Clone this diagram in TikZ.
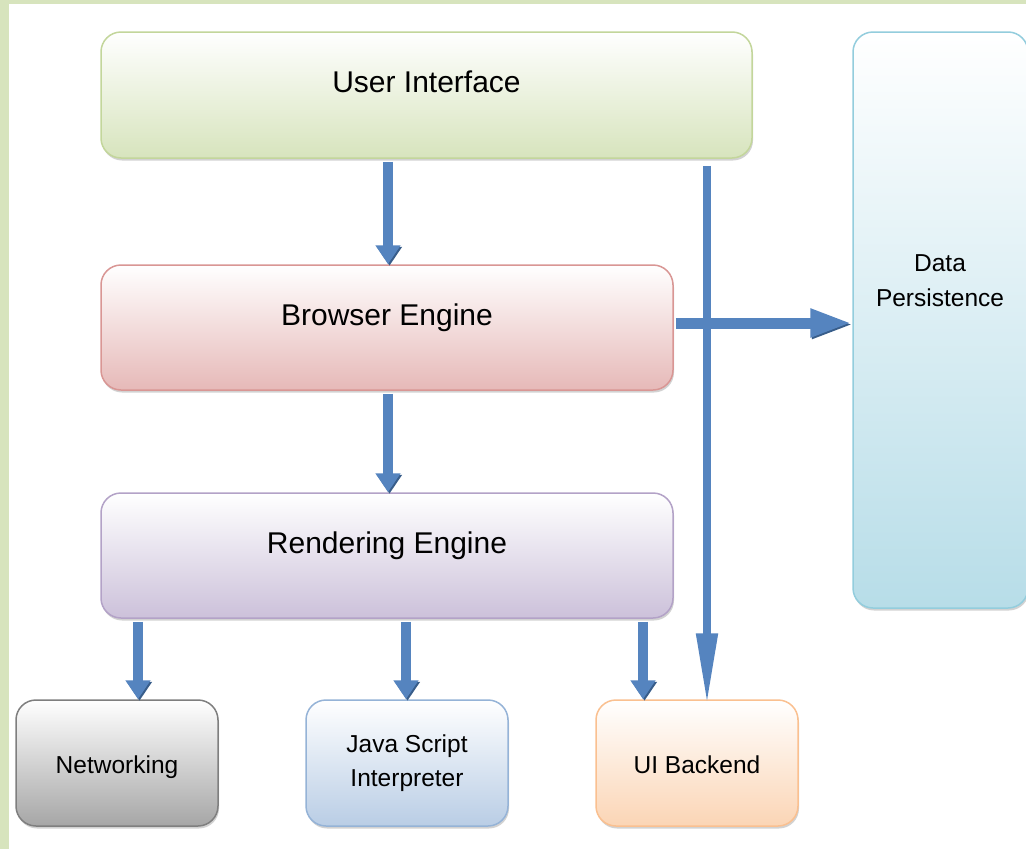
\documentclass[tikz,border=0pt]{standalone}
\usepackage{fontspec}
\setmainfont{Liberation Sans}
\usetikzlibrary{arrows.meta,shadows}
\definecolor{framegreen}{HTML}{D7E4BD}
\definecolor{uifill}{HTML}{D7E4BD}\definecolor{uiline}{HTML}{C3D69B}
\definecolor{befill}{HTML}{E6B9B8}\definecolor{beline}{HTML}{D99694}
\definecolor{refill}{HTML}{CCC1DA}\definecolor{reline}{HTML}{B3A2C7}
\definecolor{dpfill}{HTML}{B7DDE8}\definecolor{dpline}{HTML}{93CDDD}
\definecolor{netfill}{HTML}{A6A6A6}\definecolor{netline}{HTML}{7F7F7F}
\definecolor{jsfill}{HTML}{B9CDE5}\definecolor{jsline}{HTML}{95B3D7}
\definecolor{uibfill}{HTML}{FBD5B5}\definecolor{uibline}{HTML}{FAC090}
\definecolor{arrowblue}{HTML}{5584BF}\definecolor{arrowdark}{HTML}{385D8A}
\tikzset{
  box/.style 2 args={rounded corners=20pt, draw=#2, line width=1.5pt,
    top color=white, bottom color=#1,
    drop shadow={shadow xshift=1pt, shadow yshift=-2.5pt, opacity=0.35},
    text=black, inner sep=0pt},
  bigbox/.style={font=\fontsize{30}{36}\selectfont, text height=20pt, text depth=24.5pt},
  smallbox/.style={font=\fontsize{24.5}{34}\selectfont, align=center,
    minimum width=202pt, minimum height=126pt},
  oneline/.style={text height=22pt, text depth=0.5pt},
  arr/.style={line width=10pt, draw=arrowblue, -{Triangle[length=19pt,width=24pt]},
    preaction={draw=arrowdark, transform canvas={xshift=1.5pt, yshift=-1.5pt}}},
}
\begin{document}
\begin{tikzpicture}[x=1pt,y=-1pt]
\useasboundingbox (0,0) rectangle (1026,849);
\clip (0,0) rectangle (1026,849);
\fill[framegreen] (0,0) rectangle (1026,849);
\fill[white] (9,4) rectangle (1026,849);

\node[box={uifill}{uiline}, bigbox, minimum width=651pt, minimum height=126pt] (ui) at (426.5,95) {User Interface};
\node[box={befill}{beline}, bigbox, minimum width=572pt, minimum height=125pt] (be) at (387,327.5) {Browser Engine};
\node[box={refill}{reline}, bigbox, minimum width=572pt, minimum height=125pt] (re) at (387,555.5) {Rendering Engine};
\node[box={dpfill}{dpline}, minimum width=175pt, minimum height=576pt] (dp) at (940.5,320) {};
\node[font=\fontsize{24.5}{35}\selectfont, align=center, text=black] (dptext) at (940,281) {Data\\Persistence};

\node[box={netfill}{netline}, smallbox, oneline] (net) at (117,763) {Networking};
\node[box={jsfill}{jsline}, smallbox] (js) at (407,763) {Java Script\\Interpreter};
\node[box={uibfill}{uibline}, smallbox, oneline] (uib) at (697,763) {UI Backend};

\draw[arr] ([yshift=-3pt]ui.south -| 388,0) -- (be.north -| 388,0);
\draw[arr] ([yshift=-3pt]be.south -| 388,0) -- (re.north -| 388,0);
\draw[arr] ([yshift=-3pt]re.south -| 138,0) -- (net.north -| 138,0);
\draw[arr] ([yshift=-3pt]re.south -| 406,0) -- (js.north -| 406,0);
\draw[arr] ([yshift=-3pt]re.south -| 643,0) -- (uib.north -| 643,0);
\draw[arr, line width=11pt, -{Triangle[length=42pt,width=26pt]}] ([xshift=2pt]be.east |- 0,323) -- (dp.west |- 0,323);
\draw[arr, line width=8pt, -{Triangle[length=72pt,width=20pt]}] ([yshift=-7pt]ui.south -| 707,0) -- ([yshift=-6pt]uib.north -| 707,0);
\end{tikzpicture}
\end{document}
